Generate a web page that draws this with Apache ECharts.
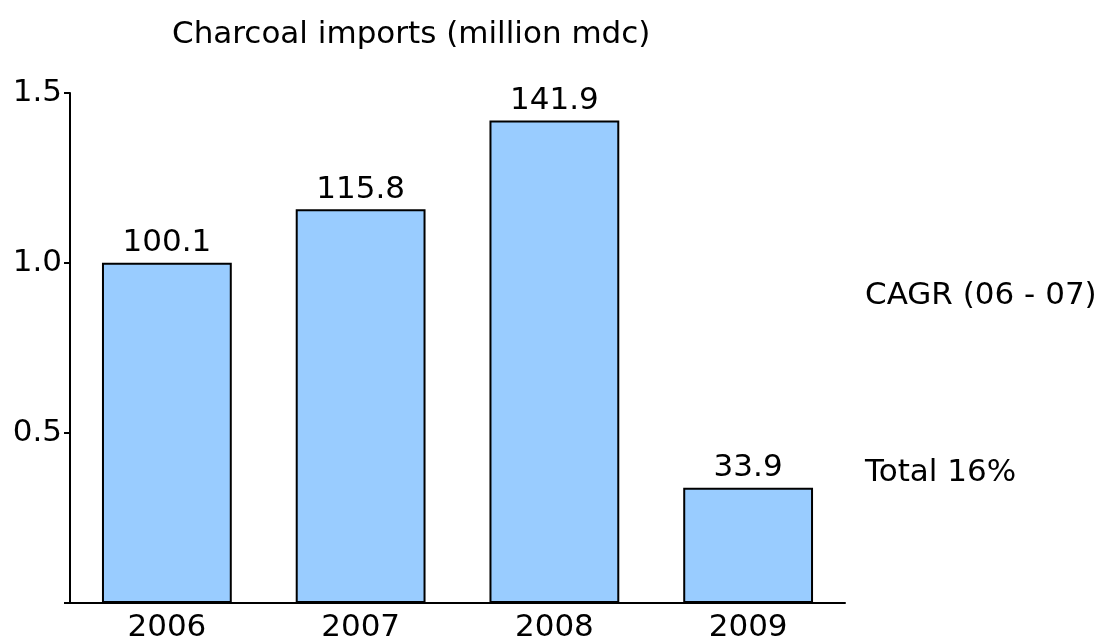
<!DOCTYPE html>
<html>
<head>
<meta charset="utf-8">
<script src="https://cdn.jsdelivr.net/npm/echarts@6/dist/echarts.min.js"></script>
<style>
  html, body { margin: 0; padding: 0; background: #ffffff; }
  #chart { width: 1118px; height: 644px; }
</style>
</head>
<body>
<div id="chart"></div>
<script>
// Charcoal imports by year (million mdc); the axis shows them scaled by 1/100
const years = ['2006', '2007', '2008', '2009'];
const imports = [100.1, 115.8, 141.9, 33.9];
const axisTicks = [0, 50, 100, 150];
const titleText = 'Charcoal imports (million mdc)';
const cagrLabel = 'CAGR (06 - 07)';
const cagrTotal = 'Total 16%';

const FONT = '"DejaVu Sans", Verdana, sans-serif';
const FS = 31;

const chart = echarts.init(document.getElementById('chart'), null, { renderer: 'canvas' });

chart.setOption({
  backgroundColor: '#ffffff',
  animation: false,
  title: {
    text: titleText,
    left: 167,
    top: 14,
    textStyle: { fontFamily: FONT, fontSize: FS, fontWeight: 'normal', color: '#000000' }
  },
  grid: { left: 70, right: 273, top: 93, bottom: 41, containLabel: false },
  xAxis: {
    type: 'category',
    data: years,
    axisLine: { show: true, lineStyle: { color: '#000000', width: 2 } },
    axisTick: { show: false },
    axisLabel: { fontFamily: FONT, fontSize: FS, color: '#000000', margin: 9 },
    splitLine: { show: false }
  },
  yAxis: {
    type: 'value',
    min: axisTicks[0],
    max: axisTicks[axisTicks.length - 1],
    interval: axisTicks[1] - axisTicks[0],
    axisLine: { show: true, lineStyle: { color: '#000000', width: 2 } },
    axisTick: { show: true, inside: false, length: 6, lineStyle: { color: '#000000', width: 2 } },
    axisLabel: {
      fontFamily: FONT, fontSize: FS, color: '#000000', margin: 8,
      formatter: v => (v === 0 ? '' : (v / 100).toFixed(1))
    },
    splitLine: { show: false }
  },
  series: [{
    type: 'bar',
    data: imports,
    barCategoryGap: '33%',
    itemStyle: { color: '#99ccff', borderColor: '#000000', borderWidth: 2 },
    label: {
      show: true,
      position: 'top',
      distance: 4,
      fontFamily: FONT,
      fontSize: FS,
      color: '#000000',
      formatter: p => p.value.toFixed(1)
    }
  }],
  graphic: [
    {
      type: 'text', left: 865, top: 280,
      style: { text: cagrLabel, font: FS + 'px ' + FONT, fill: '#000000' }
    },
    {
      type: 'text', left: 865, top: 457,
      style: { text: cagrTotal, font: FS + 'px ' + FONT, fill: '#000000' }
    }
  ]
});
</script>
</body>
</html>
